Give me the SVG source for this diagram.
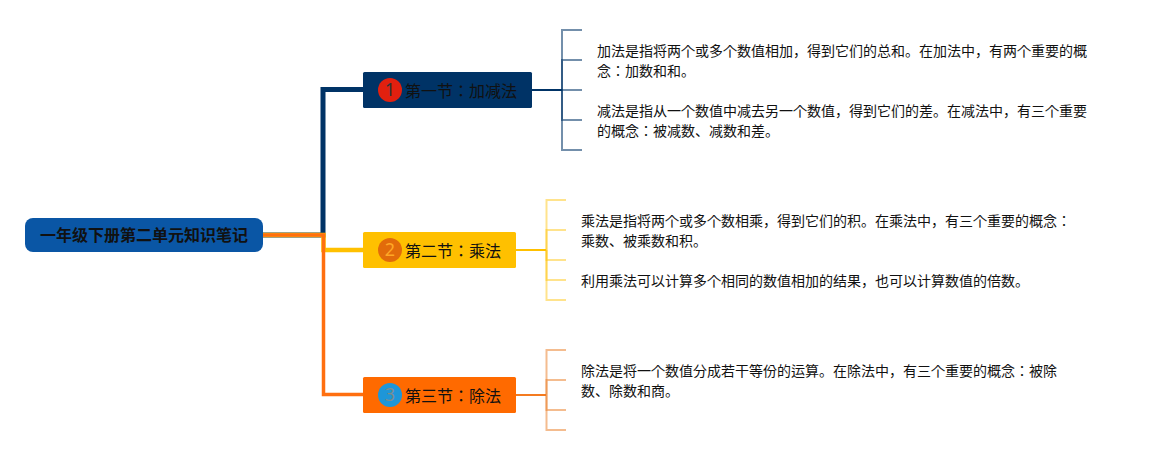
<svg xmlns="http://www.w3.org/2000/svg" width="1157" height="455" viewBox="0 0 1157 455">
<style>
text{font-family:"Noto Sans CJK JP","Liberation Sans",sans-serif;fill:#111}
.t{font-size:14px}
.h{font-size:16px}
.n{font-size:18px;font-family:"Noto Sans","Liberation Sans",sans-serif;text-anchor:middle}
.l{fill:none;stroke-linejoin:miter}
.a{stroke:#003366;stroke-width:2;stroke-opacity:.55}
.b{stroke:#FFC000;stroke-width:2;stroke-opacity:.45}
.c{stroke:#E97A1F;stroke-width:2;stroke-opacity:.5}
</style>
<rect width="1157" height="455" fill="#fff"/>
<g id="connectors">
<path class="l" d="M263 235H323V89.500H363" stroke="#003366" stroke-width="5"/>
<path class="l" d="M263 235H323.500V250H363" stroke="#FFC000" stroke-width="4.500"/>
<path class="l" d="M263 235H323.500V394.500H363" stroke="#FF6F0F" stroke-width="3.500"/>
<path class="l" d="M532 90H562" stroke="#003366" stroke-width="2"/>
<path class="l a" d="M562 90V30H582"/><path class="l a" d="M562 90V60H582"/><path class="l a" d="M562 90H582"/><path class="l a" d="M562 90V120H582"/><path class="l a" d="M562 90V150H582"/>
<path class="l" d="M516 250H546" stroke="#FFC000" stroke-width="2"/>
<path class="l b" d="M546.500 250V200H566"/><path class="l b" d="M546.500 250V230H566"/><path class="l b" d="M546.500 250V260H566"/><path class="l b" d="M546.500 250V280H566"/><path class="l b" d="M546.500 250V300H566"/>
<path class="l" d="M516 395H546" stroke="#F47B20" stroke-width="2"/>
<path class="l c" d="M546.500 395V350H566"/><path class="l c" d="M546.500 395V380H566"/><path class="l c" d="M546.500 395V410H566"/><path class="l c" d="M546.500 395V430H566"/>
</g>
<g id="root">
<rect x="25" y="218" width="238" height="34" rx="8" fill="#0A56A5"/>
<text x="144" y="241" font-size="16" font-weight="700" text-anchor="middle">一年级下册第二单元知识笔记</text>
</g>
<g id="node1">
<rect x="363" y="72" width="169" height="36" rx="1.500" fill="#003366"/>
<circle cx="390" cy="90" r="12" fill="#E1200F"/>
<text class="n" x="390" y="96" style="fill:#333">1</text>
<text class="h" x="405" y="97">第一节：加减法</text>
</g>
<g id="node2">
<rect x="363" y="232" width="153" height="36" rx="1.500" fill="#FFC000"/>
<circle cx="390" cy="250" r="12" fill="#E26B0A"/>
<text class="n" x="390" y="256" style="fill:#FFA726">2</text>
<text class="h" x="405" y="257">第二节：乘法</text>
</g>
<g id="node3">
<rect x="363" y="377" width="153" height="36" rx="1.500" fill="#FF6A00"/>
<circle cx="390" cy="395" r="12" fill="#1E96D8"/>
<text class="n" x="390" y="401" style="fill:#7F8C8D">3</text>
<text class="h" x="405" y="402">第三节：除法</text>
</g>
<g id="leaf1"><text class="t" x="597" y="56">加法是指将两个或多个数值相加，得到它们的总和。在加法中，有两个重要的概</text><text class="t" x="597" y="76">念：加数和和。</text></g>
<g id="leaf2"><text class="t" x="597" y="116">减法是指从一个数值中减去另一个数值，得到它们的差。在减法中，有三个重要</text><text class="t" x="597" y="136">的概念：被减数、减数和差。</text></g>
<g id="leaf3"><text class="t" x="581" y="226">乘法是指将两个或多个数相乘，得到它们的积。在乘法中，有三个重要的概念：</text><text class="t" x="581" y="246">乘数、被乘数和积。</text></g>
<g id="leaf4"><text class="t" x="581" y="286">利用乘法可以计算多个相同的数值相加的结果，也可以计算数值的倍数。</text></g>
<g id="leaf5"><text class="t" x="581" y="376">除法是将一个数值分成若干等份的运算。在除法中，有三个重要的概念：被除</text><text class="t" x="581" y="396">数、除数和商。</text></g>
</svg>
